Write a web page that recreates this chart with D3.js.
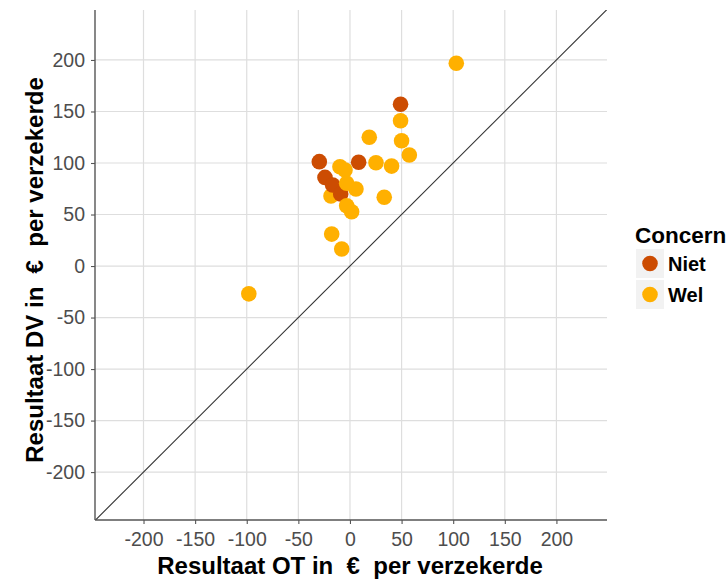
<!DOCTYPE html>
<html>
<head>
<meta charset="utf-8">
<script src="https://cdn.jsdelivr.net/npm/d3@7"></script>
<style>
  body { margin: 0; background: #fff; }
  text { font-family: "Liberation Sans", Arial, sans-serif; }
</style>
</head>
<body>
<svg width="728" height="580"></svg>
<script>
var svg = d3.select("svg");

// data: resultaat OT (x), resultaat DV (y), concern group
var ot = [-18.4, -29.7, 8.4, -24.2, -16.8, -9, 49,
          103, 49, 18.7, 50, 57.5, 25.2, 40.3, -9.7, -4.8, -3.2, 5.8,
          33.2, -3.2, 1.6, -17.7, -8, -98];
var dv = [68, 101.3, 100.7, 86, 78.6, 70, 157,
          196.8, 141, 125, 121.6, 107.8, 100.3, 97, 96.4, 93.2, 80.3, 74.8,
          66.7, 58.5, 52.7, 31, 16.5, -27];
var concern = ["Wel", "Niet", "Niet", "Niet", "Niet", "Niet", "Niet",
               "Wel", "Wel", "Wel", "Wel", "Wel", "Wel", "Wel", "Wel", "Wel", "Wel", "Wel",
               "Wel", "Wel", "Wel", "Wel", "Wel", "Wel"];
var groups = ["Niet", "Wel"];
var colors = ["#cc4c02", "#ffb000"];
var ticks = [-200, -150, -100, -50, 0, 50, 100, 150, 200];

var panel = {left: 95, right: 607, top: 10, bottom: 520};

var x = d3.scaleLinear().domain([-247, 249]).range([panel.left, panel.right]);
var y = d3.scaleLinear().domain([-246.5, 248.5]).range([panel.bottom, panel.top]);
var color = d3.scaleOrdinal().domain(groups).range(colors);

var data = ot.map(function(d, i) { return {x: d, y: dv[i], c: concern[i]}; });

// grid
var grid = svg.append("g");
grid.selectAll(".gx").data(ticks).enter().append("line")
    .attr("x1", function(d) { return x(d); }).attr("x2", function(d) { return x(d); })
    .attr("y1", panel.top).attr("y2", panel.bottom)
    .attr("stroke", "#dedede").attr("stroke-width", 1.2);
grid.selectAll(".gy").data(ticks).enter().append("line")
    .attr("y1", function(d) { return y(d); }).attr("y2", function(d) { return y(d); })
    .attr("x1", panel.left).attr("x2", panel.right)
    .attr("stroke", "#dedede").attr("stroke-width", 1.2);

svg.append("clipPath").attr("id", "clip").append("rect")
    .attr("x", panel.left).attr("y", panel.top)
    .attr("width", panel.right - panel.left).attr("height", panel.bottom - panel.top);

// identity line
svg.append("line")
    .attr("clip-path", "url(#clip)")
    .attr("x1", x(-260)).attr("y1", y(-260))
    .attr("x2", x(260)).attr("y2", y(260))
    .attr("stroke", "#333").attr("stroke-width", 1.1);

// points
svg.append("g").selectAll("circle")
    .data(data)
    .enter().append("circle")
      .attr("cx", function(d) { return x(d.x); })
      .attr("cy", function(d) { return y(d.y); })
      .attr("r", 7.8)
      .attr("fill", function(d) { return color(d.c); });

// axes (hyphen minus like the original, not U+2212)
var fmt = function(d) { return String(d); };
var xAxis = svg.append("g")
    .attr("transform", "translate(0," + panel.bottom + ")")
    .call(d3.axisBottom(x).tickValues(ticks).tickFormat(fmt).tickSize(4).tickPadding(8).tickSizeOuter(0));
var yAxis = svg.append("g")
    .attr("transform", "translate(" + panel.left + ",0)")
    .call(d3.axisLeft(y).tickValues(ticks).tickFormat(fmt).tickSize(4).tickPadding(6).tickSizeOuter(0));

[xAxis, yAxis].forEach(function(a) {
  a.select(".domain").attr("stroke", "#555").attr("stroke-width", 1.4);
  a.selectAll(".tick line").attr("stroke", "#555").attr("stroke-width", 1.1);
  a.selectAll(".tick text").attr("fill", "#4d4d4d").style("font-size", "19.5px")
      .style("font-family", "'Liberation Sans', Arial, sans-serif");
});
yAxis.select(".domain").attr("d", "M0," + panel.top + "V" + panel.bottom);
xAxis.select(".domain").attr("d", "M" + panel.left + ",0H" + panel.right);

// axis titles
svg.append("text")
    .attr("x", 350).attr("y", 574)
    .attr("text-anchor", "middle")
    .style("font-size", "24px").style("font-weight", "bold").style("white-space", "pre")
    .text("Resultaat OT in  \u20ac  per verzekerde");
svg.append("text")
    .attr("transform", "translate(43,270) rotate(-90)")
    .attr("text-anchor", "middle")
    .style("font-size", "24px").style("font-weight", "bold").style("white-space", "pre")
    .text("Resultaat DV in  \u20ac  per verzekerde");

// legend
var legend = svg.append("g");
legend.append("text")
    .attr("x", 635).attr("y", 243)
    .style("font-size", "22.5px").style("font-weight", "bold")
    .text("Concern");
var item = legend.selectAll(".item").data(groups).enter().append("g")
    .attr("transform", function(d, i) { return "translate(636," + (249 + i * 31) + ")"; });
item.append("rect").attr("width", 28).attr("height", 29).attr("fill", "#f2f2f2");
item.append("circle").attr("cx", 14).attr("cy", 14.5).attr("r", 7.8)
    .attr("fill", function(d) { return color(d); });
item.append("text").attr("x", 32).attr("y", 22)
    .style("font-size", "20px").style("font-weight", "bold")
    .text(function(d) { return d; });
</script>
</body>
</html>
